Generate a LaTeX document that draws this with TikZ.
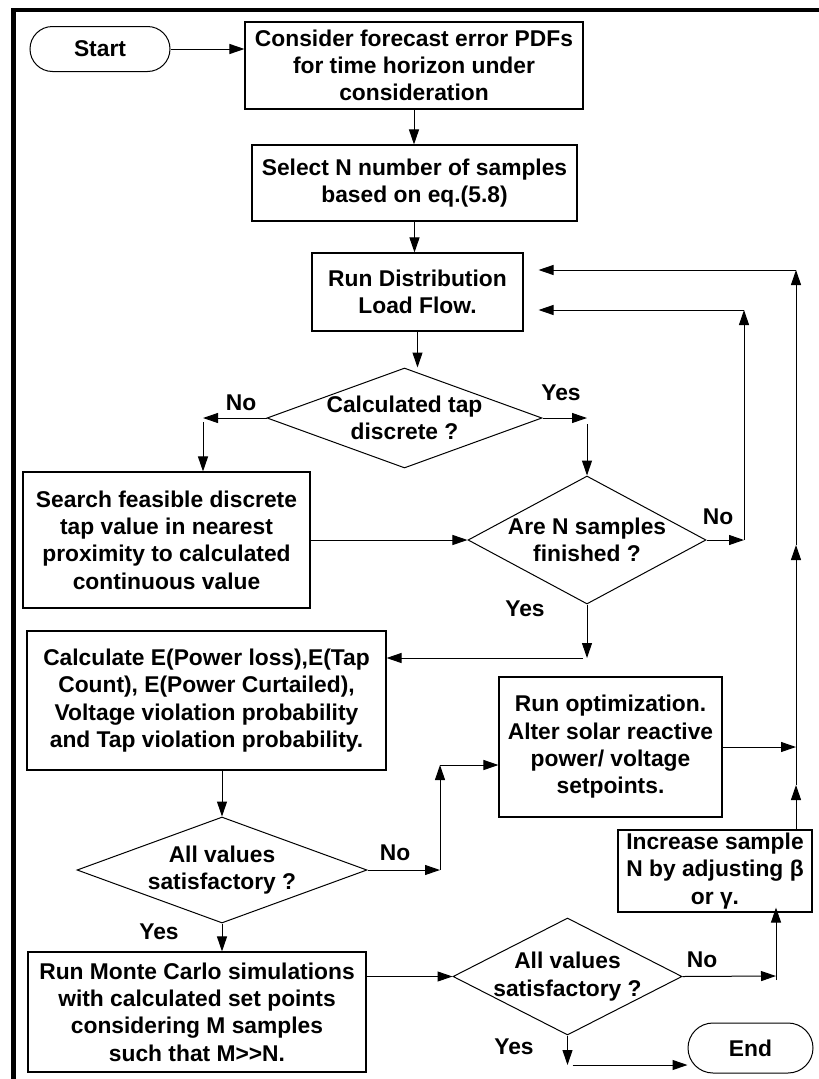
\documentclass[tikz,border=0pt]{standalone}
\usepackage{fontspec}
\setmainfont{Liberation Sans}
\usetikzlibrary{arrows.meta, positioning, shapes.geometric, shapes.misc}

\newcommand{\chartfont}{\bfseries\fontsize{22.8}{27.3}\selectfont}

\begin{document}
\begin{tikzpicture}[x=1pt, y=-1pt,
    every node/.style={font=\chartfont, align=center},
    process/.style={draw, line width=1.1pt, inner sep=0pt},
    terminal/.style={draw, rounded rectangle, line width=1pt, inner sep=0pt},
    decision/.style={draw, diamond, line width=1pt, inner sep=0pt},
    arr/.style={line width=1pt, -{Triangle[length=15pt,width=10pt]}}]
    \useasboundingbox (0,0) rectangle (819,1079);

    % heavy frame on top and left
    \draw[line width=4.5pt] (13.5,1079) -- (13.5,10) -- (819,10);

    % boxes
    \node[terminal, minimum width=140pt, minimum height=45pt] (start) at (100,49) {Start};
    \node[process, minimum width=338pt, minimum height=87pt] (fcast) at (414,65.5) {Consider forecast error PDFs\\for time horizon under\\consideration};
    \node[process, minimum width=325pt, minimum height=76pt] (select) at (414.5,183) {Select N number of samples\\based on eq.(5.8)};
    \node[process, minimum width=211pt, minimum height=78pt] (loadflow) at (417.5,292) {Run Distribution\\Load Flow.};
    \node[process, minimum width=287pt, minimum height=136pt] (search) at (166.5,540) {Search feasible discrete\\tap value in nearest\\proximity to calculated\\continuous value};
    \node[process, minimum width=359pt, minimum height=139pt] (calc) at (206.5,700.5) {Calculate E(Power loss),E(Tap\\Count), E(Power Curtailed),\\Voltage violation probability\\and Tap violation probability.};
    \node[process, minimum width=223pt, minimum height=140pt] (optim) at (610.5,747) {Run optimization.\\Alter solar reactive\\power/ voltage\\setpoints.};
    \node[process, minimum width=194pt, minimum height=82pt] (incr) at (715,871) {Increase sample\\N by adjusting β\\or γ.};
    \node[process, minimum width=338pt, minimum height=120pt] (monte) at (197,1012) {Run Monte Carlo simulations\\with calculated set points\\considering M samples\\such that M>{}>N.};
    \node[terminal, minimum width=125pt, minimum height=50pt] (stop) at (750.5,1048) {End};

    % decisions
    \node[decision, minimum width=275pt, minimum height=100pt, label=center:{Calculated tap\\discrete ?}] (tapq) at (404.5,418) {};
    \node[decision, minimum width=238pt, minimum height=128pt, label=center:{Are N samples\\finished ?}] (doneq) at (587,540) {};
    \node[decision, minimum width=290pt, minimum height=106pt, label=center:{All values\\satisfactory ?}] (satq) at (222,870) {};
    \node[decision, minimum width=229pt, minimum height=117pt, label=center:{All values\\satisfactory ?}] (finq) at (567.5,976.5) {};

    % yes / no tags
    \node (no1) at (241,403) {No};
    \node (yes1) at (561,393) {Yes};
    \node (no2) at (718,517) {No};
    \node (yes2) at (525,609) {Yes};
    \node (no3) at (395,853) {No};
    \node (yes3) at (159,932) {Yes};
    \node (no4) at (702,960) {No};
    \node (yes4) at (514,1047) {Yes};

    % bends
    \coordinate (noL) at (203,418);
    \coordinate (yesR) at (587,418);
    \coordinate (noR) at (744,540);
    \coordinate (back1) at (744,310);
    \coordinate (yesD) at (587,658);
    \coordinate (noS) at (440,870);
    \coordinate (noS2) at (440,765);
    \coordinate (up1) at (796,785);
    \coordinate (join) at (796,747);
    \coordinate (up2) at (796,545);
    \coordinate (back2) at (796,270);
    \coordinate (noF) at (776,976);
    \coordinate (yesF) at (567.5,1065);

    % main flow
    \draw[arr] (start.east) -- (start.east -| fcast.west);
    \draw[arr] (fcast.south) -- (fcast.south |- select.north);
    \draw[arr] (select.south) -- (select.south |- loadflow.north);
    \draw[arr] (loadflow.south) -- (loadflow.south |- tapq.north);

    \draw[arr] (tapq.west) -- (noL);
    \draw[arr] ([yshift=-4pt]noL) -- (noL |- search.north);
    \draw[arr] (tapq.east) -- (yesR);
    \draw[arr] ([yshift=-6pt]yesR) -- (doneq.north);
    \draw[arr] (search) -- (doneq);

    \draw[arr] (doneq.east) -- (noR);
    \draw[arr] (noR) -- (back1);
    \draw[arr] (back1) -- ([xshift=15pt]loadflow.east |- back1);

    \draw[arr] (doneq.south) -- (yesD);
    \draw[arr] ([xshift=-4pt]yesD) -- (yesD -| calc.east);
    \draw[arr] (satq.north |- calc.south) -- (satq.north);

    \draw[arr] (satq.east) -- (noS);
    \draw[arr] (noS) -- (noS2);
    \draw[arr] (noS2) -- (noS2 -| optim.west);
    \draw[arr] (optim.east |- join) -- (join);

    \draw[arr] (satq.south) -- (monte.north -| satq.south);
    \draw[arr] (monte.east |- finq.west) -- (finq.west);

    % outer return line
    \draw[arr] (incr.north -| up1) -- (up1);
    \draw[line width=1pt] (up1) -- (join);
    \draw[arr] (join) -- (up2);
    \draw[arr] (up2) -- (back2);
    \draw[arr] (back2) -- ([xshift=15pt]loadflow.east |- back2);

    \draw[arr] (finq.east) -- (noF);
    \draw[arr] ([yshift=-4pt]noF) -- ([yshift=5pt]noF |- incr.south);
    \draw[arr] (finq.south) -- (yesF);
    \draw[arr] ([xshift=5pt]yesF) -- (stop.west |- yesF);
\end{tikzpicture}
\end{document}
